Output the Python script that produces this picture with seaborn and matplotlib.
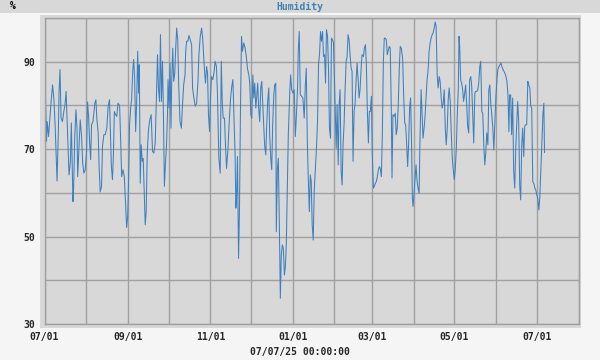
import pandas as pd
import numpy as np
import matplotlib
matplotlib.use("Agg")
import matplotlib.pyplot as plt
import matplotlib.dates as mdates
from matplotlib.patches import Rectangle
import seaborn as sns

# days after 2024-07-01 and daily humidity readings (%)
days = [0, 0.5, 1.5, 2, 3, 4, 5, 6, 7, 8, 9, 9.3, 10.3, 10.8, 11.5, 12.3, 13.3, 14.3, 15.2, 16,
        16.7, 17.7, 18.2, 19.2, 19.9, 20.6, 21.1, 21.6, 22.4, 23.3, 24.1, 24.6, 25.1, 25.8, 26.5,
        27.5, 28.3, 29.2, 30.2, 31.2, 31.9, 32.7, 33.4, 34.2, 34.9, 35.9, 36.6, 37.3, 38.1, 38.8,
        39.8, 40.5, 41.3, 42.3, 43, 44, 45, 46.2, 47.2, 48.2, 48.9, 49.6, 50.4, 51.1, 51.8, 52.6,
        53.6, 54.5, 55.7, 56.5, 57.2, 58.2, 59.2, 60.2, 60.9, 61.7, 62.4, 63.1, 63.9, 64.6, 65.4,
        66.1, 66.8, 67.6, 68.3, 69.1, 69.8, 70.3, 71, 71.7, 72.5, 73.2, 74, 74.7, 75.4, 76.2, 77.1,
        78.1, 79.1, 80.1, 81.1, 82.1, 83, 83.8, 84.5, 85.3, 86, 86.7, 87.5, 88.2, 88.9, 89.7, 90.4,
        91.2, 91.6, 92.4, 93.1, 93.8, 94.3, 95.1, 95.8, 96.6, 97.3, 98, 98.8, 99.5, 100.5, 101.5,
        102.2, 103.2, 104.2, 104.7, 105.4, 106.4, 107.1, 108.1, 109.1, 109.8, 110.8, 111.8, 112.8,
        113.8, 114.5, 115.5, 116.5, 117.2, 118, 118.7, 119.4, 120.2, 120.9, 121.6, 122.4, 123.1,
        123.8, 124.8, 125.8, 126.5, 127.5, 128.2, 128.9,
        129.3, 130.3, 131.1, 131.8, 132.5, 133.5, 134.3, 135, 136, 137, 138, 138.9, 139.7, 140.7,
        141.4, 141.9, 142.4, 143.1, 143.9, 144.6, 145.3, 146.1, 146.8, 147.8, 148.8, 149.8, 150.5,
        151.5, 152.2, 153, 153.7, 154.5, 155.2, 155.9, 156.7, 157.4, 158.1, 158.9, 159.6, 160.4,
        161.1, 161.8, 162.6, 163.3, 164.1, 164.8, 165.5, 166.3, 167, 167.8, 168.5, 169.2, 170,
        170.7, 171.5, 171.9, 172.7, 173.4, 174.2, 174.9, 175.6, 176.4, 177.1, 177.9, 178.6, 179.3,
        180.1, 180.8, 181.8, 182.5, 183.3, 184.3, 185.2, 186, 186.7, 187.7, 188.2, 188.9, 189.7,
        190.7, 191.6, 192.6, 193.4, 194.1, 194.9, 195.6, 196.4, 197.1, 197.8, 198.5, 199.3, 200,
        201, 201.8, 202.5, 203.2, 204, 204.7, 205.4, 206.2, 206.9, 207.7, 208.4, 209.1, 209.9,
        210.6, 211.3, 212.1, 212.8, 213.6, 214.3, 215, 215.8, 216.3, 217, 217.8, 218.5, 219.2,
        220, 220.7, 221.4, 222.2, 222.9, 223.7, 224.4, 225.1, 225.9, 226.6, 227.4, 228.1, 228.8,
        229.6, 230.3, 231.1, 231.8, 232.5, 233.3, 234, 234.8, 235.5, 236.5, 237.2, 238, 238.7,
        239.4, 240.2, 240.9, 241.6, 242.4, 243.1, 243.9, 244.6, 245.3, 246.1, 246.8, 247.6, 248.3,
        249, 249.8, 250.5, 251.3, 252, 252.7, 253.5, 254.2, 255, 255.7, 256.4, 257.2, 257.7, 258.4,
        259.3, 260.1, 260.8, 261.6, 262.3, 263.1, 263.8, 264.6, 265.6, 266.3, 267.1, 267.8, 268.6,
        269.3, 270, 270.8, 271.5, 272.3, 272.8, 273.3, 274, 274.8, 275.5, 276.3, 277, 277.8, 278.5,
        279.3, 280, 280.7, 281.5, 282.2, 283, 283.7, 284.5, 285.2, 286, 286.7, 287.5, 288.2, 289,
        289.7, 290.4, 291.2, 291.9, 292.7, 293.4, 294.2, 294.9, 295.7, 296.4, 297.2, 297.9, 298.6,
        299.4, 300.1, 300.9, 301.6, 302.4, 303.1, 303.9, 304.6, 305.4, 306.1, 306.9, 307.4, 307.9,
        308.6, 309.3, 310.1, 310.8, 311.6, 312.3, 313.1, 313.8, 314.6, 315.3, 316.1, 316.8, 317.6,
        318.3, 319.1, 319.8, 320.5, 321.3, 322, 322.8, 323.5, 324.3, 325, 325.8, 326.5, 327.3, 328,
        328.8, 329.5, 330.2, 331, 331.7, 332.5, 333.2, 334, 334.7, 335.5, 336.2, 337, 337.7, 338.5,
        339.2, 340, 340.7, 341.4, 342.2, 342.9, 343.7, 344.4, 344.9, 345.7, 346.4, 347.2, 347.9,
        348.7, 349.4, 350.1, 350.9, 351.6, 352.4, 353.1, 353.9, 354.6, 355.4, 356.1, 356.9, 357.6,
        358.4, 359.1, 359.9, 360.6, 361.3, 362.1, 362.8, 363.6, 364.3, 365.1, 365.8, 366.6, 367.3,
        368.1, 368.8, 369.6, 370.3, 370.8]

humidity = [89.3, 85.1, 71.8, 76.3, 72.9, 77.1, 81.3, 84.7, 81.3, 74.4, 65.6, 62.7, 74.4, 83.1,
            88.2, 77.1, 76.3, 78.6, 80.2, 83.2, 77.1, 67.9, 64.1, 67.2, 76, 65.6, 58, 61.1, 72.5,
            79, 74.8, 63.7, 67.2, 72.1, 76.7, 72.9, 66.8, 64.5, 65.3, 69.5, 80.8, 77.5, 71.8,
            67.6, 75.6, 76.3, 78.2, 80.5, 81.3, 77.1, 73.7, 66, 60.2, 61.5, 70.6, 73.3, 73.3,
            74.8, 79.8, 81.3, 74, 66, 63, 68.7, 78.6, 77.9, 77.5, 80.5, 80, 71.8, 63.7, 65.3,
            63.7, 56.9, 52.1, 54.6, 63.5, 75.6, 79.4, 81.3, 87.8, 90.5, 86.6, 74, 80.2, 92.4,
            82.8, 89.3, 62.2, 71, 67.2, 67.9, 59.5, 52.7, 55.7, 69.1, 74.4, 76.7, 77.9, 69.5,
            69.1, 71.4, 81.7, 91.6, 84, 80.9, 96.2, 80.9, 90.1, 77.9, 61.5, 66.8, 70.2, 77.9,
            85.9, 79.4, 89.7, 74.8, 85.1, 93.1, 85.5, 87.4, 93.1, 97.7, 95, 84.7, 76.3, 74.8,
            79.4, 84.7, 87, 92.4, 94.7, 94.7, 96, 95, 93.9, 84, 81.7, 79.8, 80.5, 85.5, 91.6,
            95.8, 97.7, 95.8, 91.6, 87.8, 85.1, 88.9, 87.4, 77.9, 74, 81.7, 86.6, 85.9, 87.8,
            90.1, 88.9, 83.2, 74,
            67.9, 64.5, 90.1, 80.9, 77.1, 77.1, 70.2, 65.6, 69.8, 76.3, 81.7, 84.4, 85.9, 74.8,
            67.9, 56.5, 58.8, 68.3, 45, 56.5, 78.6, 95.8, 92.4, 94.3, 93.1, 90.8, 88.5, 87, 85.1,
            77.9, 77.1, 87, 81.7, 85.1, 79.4, 82.4, 85.1, 79, 76.3, 84, 85.5, 80.5, 75.2, 70.6,
            68.7, 75.6, 80.9, 84, 72.9, 67.9, 65.3, 75.6, 82.1, 84.7, 85.1, 51.1, 65.6, 67.9,
            51.9, 35.9, 45.8, 48.1, 47.3, 41.2, 43.1, 48.1, 61.1, 73.3, 82.4, 87, 83.6, 82.8,
            83.6, 72.9, 77.1, 84.4, 92.7, 96.9, 82.4, 82.1, 81.7, 77.1, 84.4, 88.5, 71.8, 63.4,
            55.7, 64.1, 62.6, 52.7, 49.2, 60.3, 66.4, 71, 76.7, 89.3, 92, 96.9, 94.7, 96.9, 91.2,
            91.6, 85.1, 97.3, 95.8, 88.5, 74.8, 72.5, 95.4, 95, 94.3, 85.5, 76.3, 70.2, 80.2,
            66.4, 80.2, 83.6, 64.9, 61.8, 71, 76, 83.6, 90.1, 91.2, 96.2, 95, 91.6, 88.5, 87.8,
            67.2, 78.6, 80.5, 85.9, 89.7, 86.3, 81.7, 83.6, 88.5, 91.6, 91.2, 93.1, 93.9, 89.3,
            79, 71.4, 78.6, 78.6, 82.1, 68.7, 61.1, 61.5, 62.2, 62.6, 63.7, 65.3, 66, 65.6, 63.7,
            72.9, 90.1, 95.4, 95.4, 95, 91.6, 92.7, 93.5, 93.1, 78.6, 63.4, 77.9,
            77.5, 78.2, 73.3, 74.8, 79.8, 88.5, 93.5, 93.1, 90.8, 82.8, 76, 75.6, 71, 66, 71,
            79.8, 81.7, 69.5, 58.8, 56.9, 59.5, 63.4, 66.4, 62.6, 61.1, 59.9, 72.9, 83.6, 77.9,
            72.5, 74.8, 77.5, 82.1, 85.9, 88.2, 92.4, 94.3, 95.4, 96.2, 96.6, 97.7, 99.1, 98.1,
            87, 84, 86.6, 85.5, 81.7, 79.4, 80.5, 83.6, 74.8, 71, 74.4, 81.3, 84, 80.9, 74, 67.9,
            65.3, 63, 65.3, 70.2, 77.9, 84, 95.8, 93.5, 85.9, 85.1, 83.6, 80.9, 82.8, 84.7, 80.2,
            75.2, 73.7, 85.9, 86.6, 84.4, 77.5, 71.4, 82.8, 83.2, 83.2, 83.6, 85.1, 88.9, 90.1,
            78.6, 78.2, 70.6, 66.4, 69.5, 73.7, 71, 83.6, 84.7, 80.2, 77.9, 74.8, 69.8, 76, 81.7,
            85.9, 88.2, 88.9, 89.3, 89.7, 88.9, 88.2, 87.8, 87.4, 86.6, 85.5, 82.4, 74, 82.4,
            82.4, 73.3, 81.7, 65.3, 61.1, 69.5, 75.2, 80.9, 76.7, 61.8, 58.4, 71, 74.8, 68.3,
            75.2, 75.6, 75.6, 85.5, 84.7, 84, 79.8, 79.4, 62.6, 62.2, 61.1, 60.7, 59.5, 58.8,
            56.1, 59.1, 65.3, 71, 77.9, 80.5, 69.2]

start = pd.Timestamp("2024-07-01")
df = pd.DataFrame({"time": start + pd.to_timedelta(days, unit="D"), "humidity": humidity})

sns.set_style("white")
plt.rcParams['font.family'] = ['DejaVu Sans Mono']
grid_col = "#a0a0a0"
line_col = "#3d80bf"

fig = plt.figure(figsize=(6, 3.6), dpi=100)
fig.patch.set_facecolor("#f5f5f5")

# title band and plot panel
fig.add_artist(Rectangle((0, 1 - 13 / 360), 1, 13 / 360, transform=fig.transFigure,
                         facecolor="#d8d8d8", edgecolor="none", zorder=0))
fig.add_artist(Rectangle((40 / 600, 1 - 327.5 / 360), 540.5 / 600, 312.5 / 360,
                         transform=fig.transFigure, facecolor="#d8d8d8", edgecolor="none", zorder=0))
fig.text(0.5, 1 - 6.5 / 360, "Humidity", color="#4282b4", fontsize=7, fontweight="bold",
         ha="center", va="center")
fig.text(12.5 / 600, 1 - 6 / 360, "%", color="black", fontsize=7, fontweight="bold",
         ha="center", va="center")

ax = fig.add_axes([44.5 / 600, 1 - 324 / 360, 534 / 600, 306 / 360])
ax.set_facecolor("#d8d8d8")
sns.lineplot(data=df, x="time", y="humidity", ax=ax, color=line_col, linewidth=0.75)

ax.set_xlim(pd.Timestamp("2024-07-01"), pd.Timestamp("2025-08-01"))
ax.set_ylim(30, 100)
ax.set_yticks([30, 50, 70, 90])
ax.set_yticks([40, 60, 80, 100], minor=True)
ax.xaxis.set_major_locator(mdates.MonthLocator(bymonth=[1, 3, 5, 7, 9, 11]))
ax.xaxis.set_minor_locator(mdates.MonthLocator())
ax.xaxis.set_major_formatter(mdates.DateFormatter("%m/%d"))
ax.grid(True, which="both", color=grid_col, linewidth=1.0)
ax.set_axisbelow(True)
for s in ax.spines.values():
    s.set_color(grid_col)
    s.set_linewidth(1.0)
ax.tick_params(which="both", length=0)
ax.tick_params(axis="y", pad=7, labelsize=7)
ax.tick_params(axis="x", pad=6, labelsize=7)
for lab in ax.get_xticklabels() + ax.get_yticklabels():
    lab.set_fontweight("bold")
ax.set_xlabel("")
ax.set_ylabel("")

fig.text(0.5, 1 - 352 / 360, "07/07/25 00:00:00", fontsize=7, fontweight="bold",
         ha="center", va="center")

plt.savefig("out.png", dpi=100, facecolor=fig.get_facecolor())
